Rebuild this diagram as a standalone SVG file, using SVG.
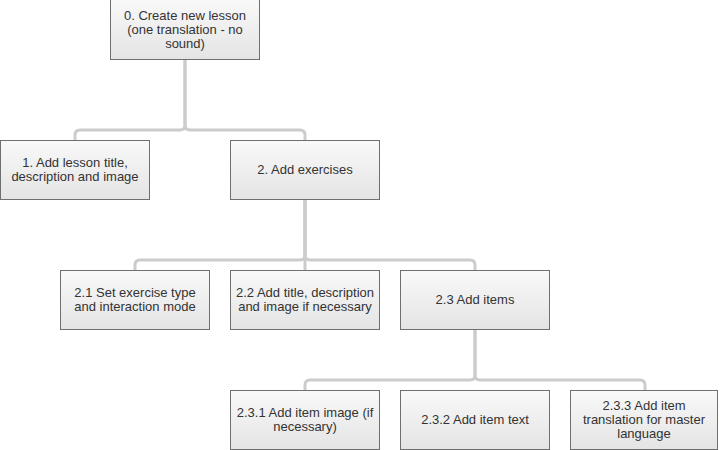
<svg xmlns="http://www.w3.org/2000/svg" width="720" height="450" viewBox="0 0 720 450">
<defs>
<linearGradient id="g" x1="0" y1="0" x2="0" y2="1">
<stop offset="0" stop-color="#f9f9f9"/>
<stop offset="1" stop-color="#e4e4e4"/>
</linearGradient>
</defs>
<style>
.box{fill:url(#g);stroke:#6f6f6f;stroke-width:1}
.t{font-family:"Liberation Sans",Arial,sans-serif;font-size:13px;fill:#333;text-anchor:middle}
.c{fill:none;stroke:#cccccc;stroke-width:3}
</style>
<rect width="720" height="450" fill="#ffffff"/>
<g id="connectors">
<path class="c" d="M185 60 V125 Q185 130 180 130 H80 Q75 130 75 135 V140"/>
<path class="c" d="M185 60 V125 Q185 130 190 130 H300 Q305 130 305 135 V140"/>
<path class="c" d="M305 200 V255 Q305 260 300 260 H140 Q135 260 135 265 V270"/>
<path class="c" d="M305 200 V270"/>
<path class="c" d="M305 200 V255 Q305 260 310 260 H470 Q475 260 475 265 V270"/>
<path class="c" d="M475 330 V375 Q475 380 470 380 H310 Q305 380 305 385 V390"/>
<path class="c" d="M475 330 V375 Q475 380 480 380 H640 Q645 380 645 385 V390"/>
</g>
<g id="n0"><rect class="box" x="110.5" y="-0.5" width="149" height="60"/>
<text class="t" x="185" y="20">0. Create new lesson</text>
<text class="t" x="185" y="34">(one translation - no</text>
<text class="t" x="185" y="48">sound)</text></g>
<g id="n1"><rect class="box" x="0.5" y="140.5" width="149" height="59"/>
<text class="t" x="75" y="167">1. Add lesson title,</text>
<text class="t" x="75" y="181">description and image</text></g>
<g id="n2"><rect class="box" x="230.5" y="140.5" width="149" height="59"/>
<text class="t" x="305" y="174">2. Add exercises</text></g>
<g id="n21"><rect class="box" x="60.5" y="270.5" width="149" height="59"/>
<text class="t" x="135" y="297">2.1 Set exercise type</text>
<text class="t" x="135" y="311">and interaction mode</text></g>
<g id="n22"><rect class="box" x="230.5" y="270.5" width="149" height="59"/>
<text class="t" x="305" y="297">2.2 Add title, description</text>
<text class="t" x="305" y="311">and image if necessary</text></g>
<g id="n23"><rect class="box" x="400.5" y="270.5" width="149" height="59"/>
<text class="t" x="475" y="304">2.3 Add items</text></g>
<g id="n231"><rect class="box" x="230.5" y="390.5" width="149" height="59"/>
<text class="t" x="305" y="417">2.3.1 Add item image (if</text>
<text class="t" x="305" y="431">necessary)</text></g>
<g id="n232"><rect class="box" x="400.5" y="390.5" width="149" height="59"/>
<text class="t" x="475" y="424">2.3.2 Add item text</text></g>
<g id="n233"><rect class="box" x="570.5" y="390.5" width="147" height="59"/>
<text class="t" x="644" y="410">2.3.3 Add item</text>
<text class="t" x="644" y="424">translation for master</text>
<text class="t" x="644" y="438">language</text></g>
</svg>
